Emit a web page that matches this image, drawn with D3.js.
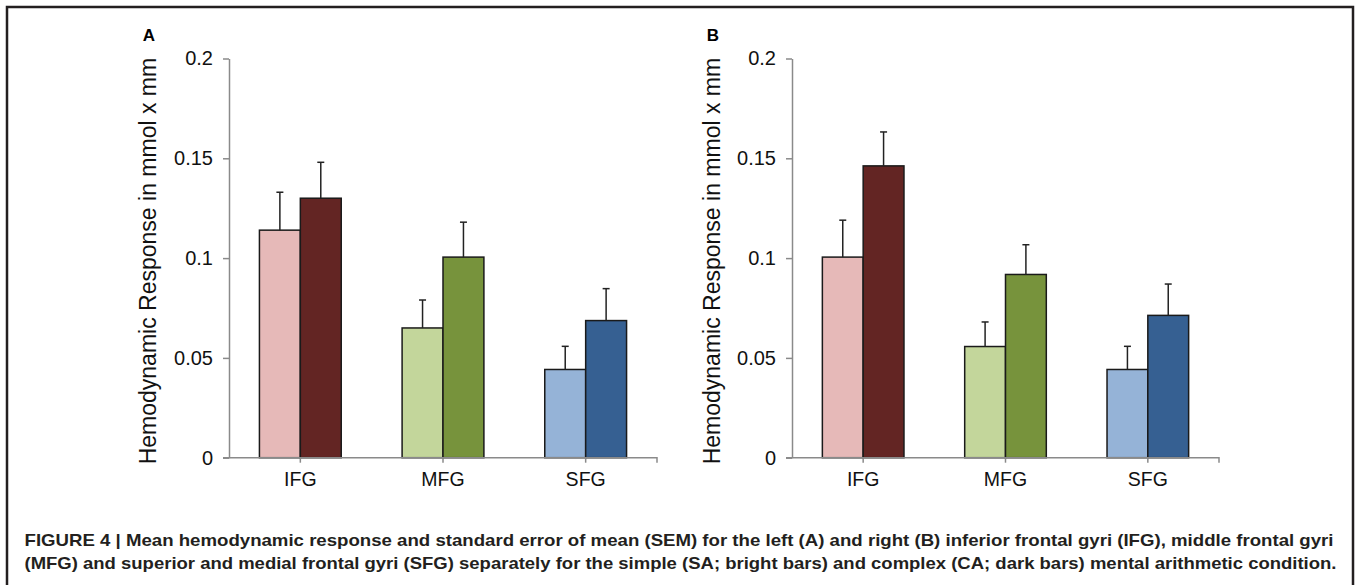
<!DOCTYPE html>
<html>
<head>
<meta charset="utf-8">
<script src="https://cdn.jsdelivr.net/npm/d3@7"></script>
<style>
  body { margin: 0; background: #fff; }
  svg { display: block; }
  .tick text { font-family: "Liberation Sans", Arial, sans-serif; fill: #111; }
</style>
</head>
<body>
<svg id="chart" width="1355" height="585"></svg>
<script>
// data
const categories = ["IFG", "MFG", "SFG"];
const yTicks = [0, 0.05, 0.1, 0.15, 0.2];
const yTickLabels = ["0", "0.05", "0.1", "0.15", "0.2"];

// panel A (left)
const simpleA = [0.114, 0.065, 0.0442];
const simpleErrA = [0.019, 0.014, 0.0116];
const complexA = [0.130, 0.1005, 0.0687];
const complexErrA = [0.018, 0.0175, 0.016];

// panel B (right)
const simpleB = [0.1005, 0.0557, 0.0442];
const simpleErrB = [0.0185, 0.0123, 0.0116];
const complexB = [0.1462, 0.0918, 0.0713];
const complexErrB = [0.017, 0.0149, 0.0157];

const lightColors = ["#E6B9B8", "#C3D69B", "#95B3D7"];
const darkColors = ["#632523", "#77933C", "#366092"];

const captionLines = [
  "FIGURE 4 | Mean hemodynamic response and standard error of mean (SEM) for the left (A) and right (B) inferior frontal gyri (IFG), middle frontal gyri",
  "(MFG) and superior and medial frontal gyri (SFG) separately for the simple (SA; bright bars) and complex (CA; dark bars) mental arithmetic condition."
];

const svg = d3.select("#chart");

// frame (open at the bottom, cut off in the original)
svg.append("rect")
  .attr("x", 7).attr("y", 7)
  .attr("width", 1346).attr("height", 620)
  .attr("fill", "none")
  .attr("stroke", "#231f20")
  .attr("stroke-width", 2.5);

const panels = [
  { label: "A", left: 229, right: 657, titleX: 156, simple: simpleA, simpleErr: simpleErrA, complex: complexA, complexErr: complexErrA },
  { label: "B", left: 792, right: 1219, titleX: 720, simple: simpleB, simpleErr: simpleErrB, complex: complexB, complexErr: complexErrB }
];

const y = d3.scaleLinear().domain([0, 0.2]).range([457.7, 58.5]);

panels.forEach(p => {
  const g = svg.append("g");

  const x = d3.scaleBand().domain(categories).range([p.left, p.right]);
  const inner = d3.scaleBand().domain(["SA", "CA"]).range([0, x.bandwidth()]).paddingOuter(0.744);

  const rows = categories.map((c, i) => ({
    cat: c,
    bars: [
      { key: "SA", v: p.simple[i], e: p.simpleErr[i], color: lightColors[i] },
      { key: "CA", v: p.complex[i], e: p.complexErr[i], color: darkColors[i] }
    ]
  }));

  // y axis
  const yAxis = d3.axisLeft(y)
    .tickValues(yTicks)
    .tickFormat((d, i) => yTickLabels[i])
    .tickSize(6)
    .tickSizeOuter(0)
    .tickPadding(10);
  const ya = g.append("g").attr("transform", `translate(${p.left},0)`).call(yAxis);
  ya.selectAll("path, line").attr("stroke", "#8a8a8a").attr("stroke-width", 1.5);
  ya.selectAll("text").attr("font-size", 20);

  // bars
  const grp = g.selectAll(".grp").data(rows).enter().append("g")
    .attr("transform", d => `translate(${x(d.cat)},0)`);

  grp.selectAll("rect").data(d => d.bars).enter().append("rect")
    .attr("x", d => inner(d.key))
    .attr("y", d => y(d.v))
    .attr("width", inner.bandwidth())
    .attr("height", d => y(0) - y(d.v))
    .attr("fill", d => d.color)
    .attr("stroke", "#1a1a1a")
    .attr("stroke-width", 1.5);

  // error bars (upper half only)
  const eb = grp.selectAll(".err").data(d => d.bars).enter().append("g");
  eb.append("line")
    .attr("x1", d => inner(d.key) + inner.bandwidth() / 2)
    .attr("x2", d => inner(d.key) + inner.bandwidth() / 2)
    .attr("y1", d => y(d.v))
    .attr("y2", d => y(d.v + d.e))
    .attr("stroke", "#222").attr("stroke-width", 1.5);
  eb.append("line")
    .attr("x1", d => inner(d.key) + inner.bandwidth() / 2 - 3.5)
    .attr("x2", d => inner(d.key) + inner.bandwidth() / 2 + 3.5)
    .attr("y1", d => y(d.v + d.e))
    .attr("y2", d => y(d.v + d.e))
    .attr("stroke", "#222").attr("stroke-width", 1.5);

  // x axis
  const xAxis = d3.axisBottom(x).tickSize(5).tickSizeOuter(0).tickPadding(9);
  const xa = g.append("g").attr("transform", `translate(0,${y(0)})`).call(xAxis);
  xa.select(".domain").attr("d", `M${p.left - 6},0H${p.right}V5`);
  xa.selectAll("path, line").attr("stroke", "#8a8a8a").attr("stroke-width", 1.5).attr("fill", "none");
  xa.selectAll("text").attr("font-size", 19.5);

  // y title
  g.append("text")
    .attr("transform", `translate(${p.titleX},${(y(0) + y(0.2)) / 2 + 3}) rotate(-90)`)
    .attr("text-anchor", "middle")
    .attr("font-family", "'Liberation Sans', Arial, sans-serif")
    .attr("font-size", 23)
    .attr("fill", "#111")
    .text("Hemodynamic Response in mmol x mm");

  // panel letter
  g.append("text")
    .attr("x", p.titleX - 7)
    .attr("y", 40.5)
    .attr("text-anchor", "middle")
    .attr("font-family", "'Liberation Sans', Arial, sans-serif")
    .attr("font-weight", "bold")
    .attr("font-size", 17)
    .text(p.label);
});

// caption
const capWidths = [1309, 1312];
svg.selectAll(".cap").data(captionLines).enter().append("text")
  .attr("x", 24.5)
  .attr("y", (d, i) => 545.5 + i * 23)
  .attr("font-family", "'Liberation Sans Narrow', 'Arial Narrow', 'Liberation Sans', Arial, sans-serif")
  .attr("font-weight", "bold")
  .attr("font-size", 17)
  .attr("fill", "#231f20")
  .attr("textLength", (d, i) => capWidths[i])
  .attr("lengthAdjust", "spacingAndGlyphs")
  .text(d => d);
</script>
</body>
</html>
